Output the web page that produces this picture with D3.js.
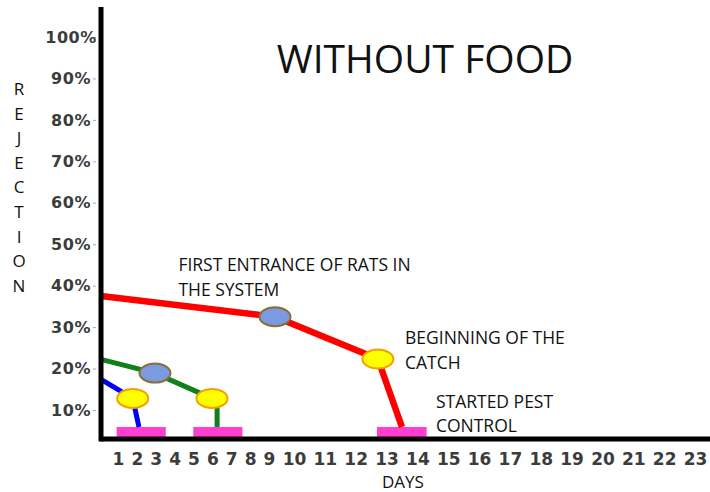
<!DOCTYPE html>
<head>
  <meta charset="utf-8">
  <script src="https://d3js.org/d3.v7.min.js"></script>
  <style>
    body { margin:0; background:#fff; }
    .lbl { font-family: "Open Sans", sans-serif; fill:#111; }
    .tick text { font-family: "DejaVu Sans", sans-serif; font-weight:bold; fill:#3c3c3c; }
  </style>
</head>
<body>
  <svg id="chart" width="710" height="492"></svg>
  <script>
    // tick labels
    var dayTicks = [1,2,3,4,5,6,7,8,9,10,11,12,13,14,15,16,17,18,19,20,21,22,23];
    var pctTicks = [10,20,30,40,50,60,70,80,90,100];

    // series: [day, rejection %]
    var redSeries   = [[0,37.5],[9.24,32.5],[12.72,22.3],[13.5,5.9]];
    var greenSeries = [[0,22.2],[2.96,18.9],[5.98,12.8],[6.25,12.8],[6.25,5.9]];
    var blueSeries  = [[0,17.4],[1.78,12.8],[2.11,5.9]];

    // markers: [day, %, type]
    var markers = [[9.24,32.5,"blue"],[12.72,22.3,"yellow"],[2.96,18.9,"blue"],[5.98,12.8,"yellow"],[1.78,12.8,"yellow"]];

    // pest control periods: [start day, end day]
    var pestBars = [[0.92,3.53],[4.99,7.59],[12.69,14.3]];

    var notes = [
      {day:4.2, pct:43.5, lines:["FIRST ENTRANCE OF RATS IN","THE SYSTEM"]},
      {day:13.6, pct:25.9, lines:["BEGINNING OF THE","CATCH"]},
      {day:14.6, pct:10.5, lines:["STARTED PEST","CONTROL"]}
    ];

    var svg = d3.select("#chart");

    // day labels are not evenly spaced in the original
    var x = d3.scaleLinear().domain([0,1,9,10,23]).range([101,118,269,294,695]);
    var y = d3.scaleLinear().domain([3,100]).range([439,37]);

    var line = d3.line().x(function(d){return x(d[0])}).y(function(d){return y(d[1])});

    svg.selectAll("rect.pest").data(pestBars).enter().append("rect")
      .attr("class","pest")
      .attr("x", function(d){return x(d[0])})
      .attr("width", function(d){return x(d[1]) - x(d[0])})
      .attr("y", y(5.9))
      .attr("height", y(3) - y(5.9))
      .attr("fill","#ff3fd0");

    svg.append("path").datum(blueSeries).attr("d", line)
      .attr("fill","none").attr("stroke","#0000ff").attr("stroke-width",5);
    svg.append("path").datum(greenSeries).attr("d", line)
      .attr("fill","none").attr("stroke","#12801a").attr("stroke-width",5);
    svg.append("path").datum(redSeries).attr("d", line)
      .attr("fill","none").attr("stroke","#ff0000").attr("stroke-width",6.5)
      .attr("stroke-linejoin","round");

    svg.selectAll("ellipse").data(markers).enter().append("ellipse")
      .attr("cx", function(d){return x(d[0])})
      .attr("cy", function(d){return y(d[1])})
      .attr("rx",15.5).attr("ry",9.5)
      .attr("fill", function(d){return d[2]=="blue" ? "#7b9be0" : "#ffff00"})
      .attr("stroke", function(d){return d[2]=="blue" ? "#8a6d3b" : "#f5a000"})
      .attr("stroke-width",2);

    // axes
    var yAxis = svg.append("g").attr("transform","translate(101,0)")
      .call(d3.axisLeft(y).tickValues(pctTicks).tickSize(3).tickFormat(function(d){return d+"%"}));
    yAxis.select(".domain").remove();
    yAxis.selectAll(".tick line").attr("stroke","#aaa").attr("transform","translate(-5,0)");
    yAxis.selectAll(".tick text").attr("x",-30).attr("text-anchor","middle")
      .style("font-size","16px").style("letter-spacing","0.5px");

    var xAxis = svg.append("g").attr("transform","translate(0,"+y(3)+")")
      .call(d3.axisBottom(x).tickValues(dayTicks).tickSize(0).tickPadding(14));
    xAxis.select(".domain").remove();
    xAxis.selectAll(".tick text").style("font-size","17px");

    svg.append("line").attr("x1",x(0)).attr("x2",710).attr("y1",y(3)).attr("y2",y(3))
      .attr("stroke","#000").attr("stroke-width",5);
    svg.append("line").attr("x1",x(0)).attr("x2",x(0)).attr("y1",7).attr("y2",y(3)+2.5)
      .attr("stroke","#000").attr("stroke-width",5);

    // texts
    svg.append("text").attr("class","lbl").attr("x",425).attr("y",73)
      .attr("text-anchor","middle").style("font-size","39px").text("WITHOUT FOOD");

    svg.append("text").attr("class","lbl").attr("x",403).attr("y",488)
      .attr("text-anchor","middle").style("font-size","17px").text("DAYS");

    var yTitle = "REJECTION".split("");
    svg.selectAll("text.ylet").data(yTitle).enter().append("text")
      .attr("class","lbl ylet")
      .attr("x",19).attr("y", function(d,i){return 95 + i*24.6})
      .attr("text-anchor","middle").style("font-size","17px")
      .text(function(d){return d});

    notes.forEach(function(n){
      var t = svg.append("text").attr("class","lbl")
        .attr("x", x(n.day)).attr("y", y(n.pct)).style("font-size","17.5px");
      n.lines.forEach(function(s,i){
        t.append("tspan").attr("x", x(n.day)).attr("dy", i==0 ? 0 : 24.5).text(s);
      });
    });
  </script>
</body>
